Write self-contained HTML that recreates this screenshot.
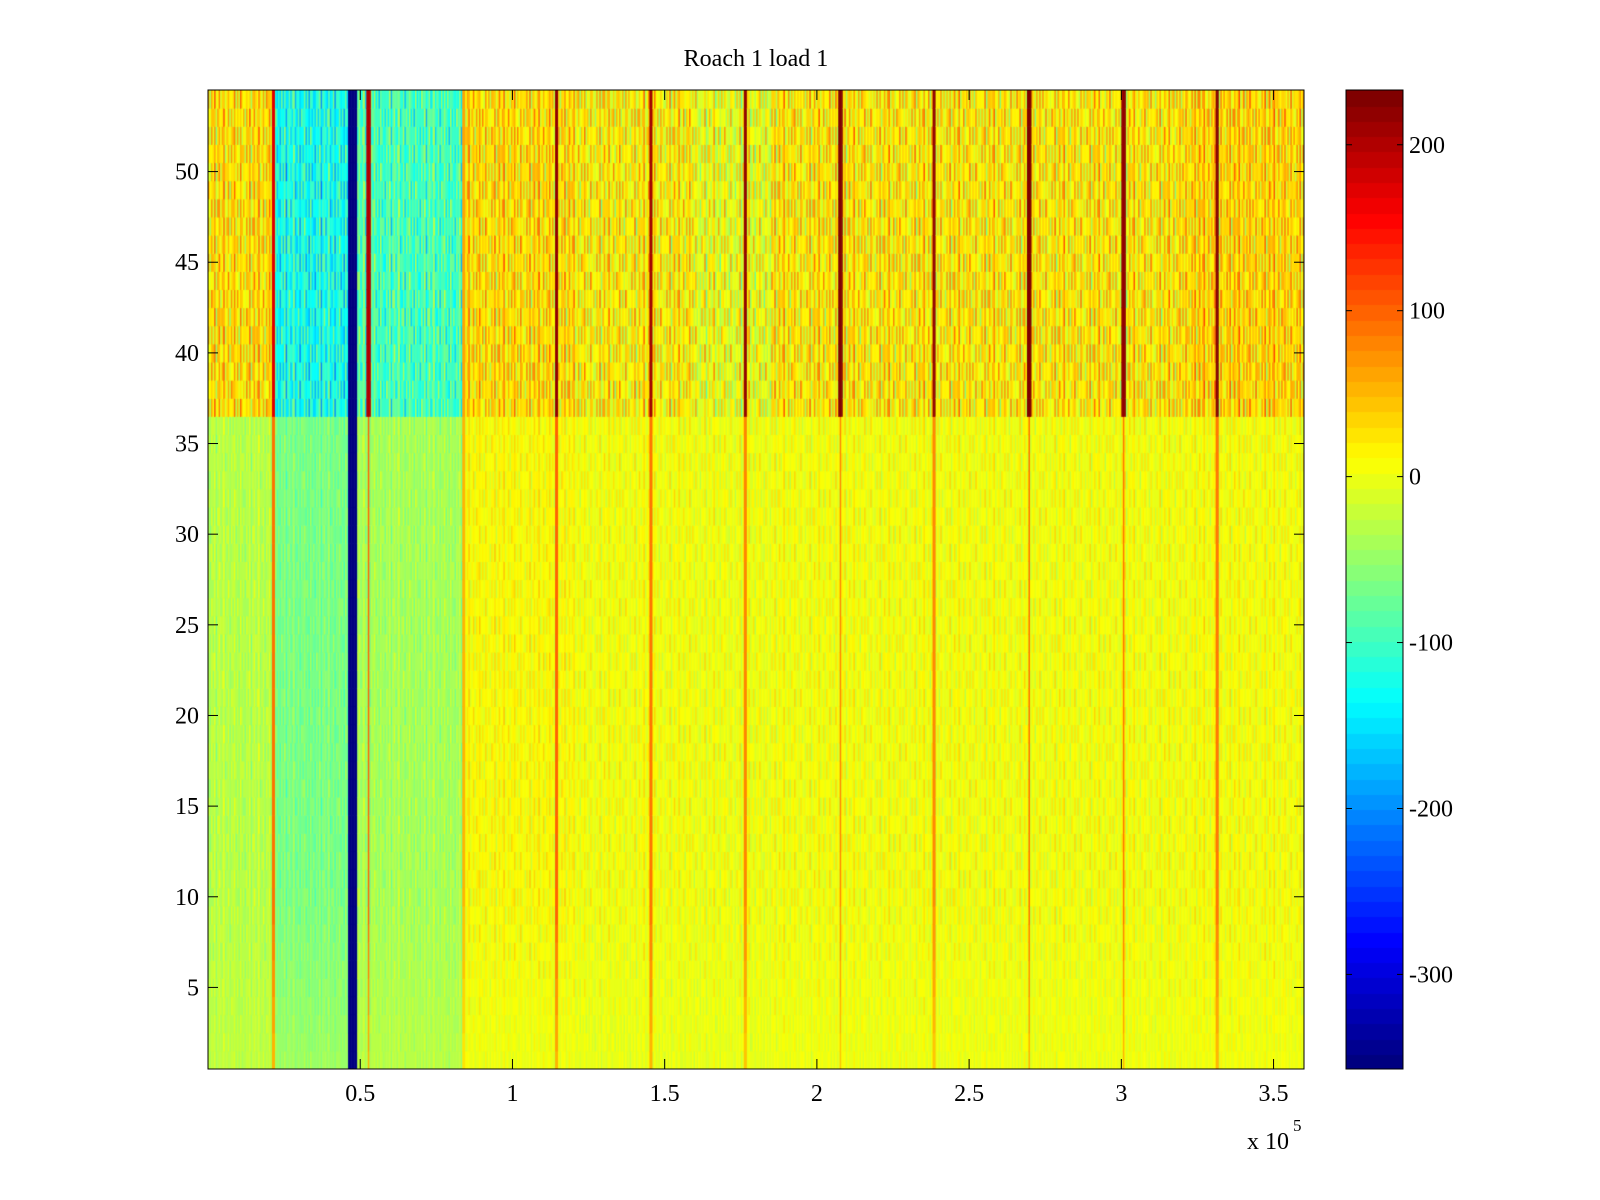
<!DOCTYPE html>
<html><head><meta charset="utf-8"><style>
body{margin:0;background:#fff;width:1600px;height:1200px;overflow:hidden;position:relative;font-family:"Liberation Serif",serif;}
.t{position:absolute;font-size:24px;color:#000;white-space:nowrap}
</style></head><body>
<div class="t" style="left:0;width:1512px;text-align:center;top:46px">Roach 1 load 1</div>
<canvas id="hm" width="1096" height="979" style="position:absolute;left:208px;top:90px"></canvas>
<canvas id="cb" width="57" height="979" style="position:absolute;left:1346px;top:90px"></canvas>
<svg id="ax" width="1600" height="1200" style="position:absolute;left:0;top:0"></svg>
<script>
// ---- data (x in units of 1e5, colour values) ----
const segStarts   = [0.00, 0.22, 0.46, 0.49, 0.84, 1.20, 1.60, 1.85, 3.20];
const segEnds     = [0.22, 0.46, 0.49, 0.84, 1.20, 1.60, 1.85, 3.20, 3.61];
const upperValues = [28, -125, -350, -95, 30, 18, 0, 22, 35];
const lowerValues = [-30, -65, -350, -40, 10, 4, 2, 4, 6];
const bottomValues= [-25, -45, -350, -30, 0, -3, -3, 0, 2];
const stripeX     = [0.215,0.527,0.839,1.144,1.456,1.765,2.077,2.386,2.698,3.007,3.315];
const stripeUpper = [170,200,60,220,210,220,225,215,225,220,225];
const stripeLower = [90,100,50,100,90,80,80,80,90,90,90];
const texture     = [0,-40,25,-15,50,-60,10,35,-25,5,60,-35,-10,30,-50,20,-5,45,-30,15,-45,40,-20];
const rowTexture  = [0,20,-15,30,-25,10,-35,25,-5,15,-20,35,-10,5,-30,40,-40];
const colorMin = -357, colorMax = 233;
const xMin = 0, xMax = 3.6, yMin = 0.5, yMax = 54.5;
const xTicks = [0.5,1,1.5,2,2.5,3,3.5];
const xTickLabels = ["0.5","1","1.5","2","2.5","3","3.5"];
const yTicks = [5,10,15,20,25,30,35,40,45,50];
const cTicks = [200,100,0,-100,-200,-300];

const L=208,T=90,W=1096,H=979,CL=1346,CW=57;
const xs = v => (v-xMin)/(xMax-xMin)*W;
const ys = v => (yMax-v)/(yMax-yMin)*H;
function jet(v){
  let t=(v-colorMin)/(colorMax-colorMin); t=Math.max(0,Math.min(1,t));
  t=Math.min(63,Math.floor(t*64))/63;
  const c=x=>Math.round(255*Math.max(0,Math.min(1,1.5-Math.abs(x))));
  return `rgb(${c(4*t-3)},${c(4*t-2)},${c(4*t-1)})`;
}
const ctx=document.getElementById('hm').getContext('2d');
const dx=0.005, nCols=Math.round(3.6/dx);
for(let c=0;c<nCols;c++){
  const x=c*dx+dx/2;
  let s=segStarts.findIndex((a,i)=>x>=a&&x<segEnds[i]); if(s<0)s=segEnds.length-1;
  for(let r=1;r<=54;r++){
    let v;
    const upper=r>=37;
    if(upper) v=upperValues[s];
    else if(r<=10) v=bottomValues[s]+(lowerValues[s]-bottomValues[s])*(r-1)/10;
    else v=lowerValues[s];
    if(upperValues[s]>-300){
      const amp = upper?0.85:(r<=10?0.15+0.02*r:0.35);
      v += amp*(texture[c%texture.length]+rowTexture[(r+c*3)%rowTexture.length]);
    }
    for(let k=0;k<stripeX.length;k++){
      if(Math.abs(x-stripeX[k])<(upper?0.006:0.004)){
        v = upper?stripeUpper[k]:stripeLower[k]*(r<=10?0.5+0.05*r:1);
      }
    }
    ctx.fillStyle=jet(v);
    ctx.fillRect(xs(x-dx/2),ys(r+0.5),xs(dx)+0.6,ys(r-0.5)-ys(r+0.5)+0.6);
  }
}
const cb=document.getElementById('cb').getContext('2d');
for(let i=0;i<64;i++){
  const v0=colorMin+(colorMax-colorMin)*i/64, v1=colorMin+(colorMax-colorMin)*(i+1)/64;
  cb.fillStyle=jet((v0+v1)/2);
  const y1=H-(i+1)*H/64;
  cb.fillRect(0,Math.floor(y1),CW,Math.ceil(H/64)+1);
}
const svg=document.getElementById('ax'),NS='http://www.w3.org/2000/svg';
function el(tag,attrs,txt){const e=document.createElementNS(NS,tag);for(const k in attrs)e.setAttribute(k,attrs[k]);if(txt!==undefined)e.textContent=txt;svg.appendChild(e);return e;}
let e;
e=el('rect',{x:L,y:T,width:W,height:H,fill:'none',stroke:'#000','stroke-width':1});


e=el('rect',{x:CL,y:T,width:CW,height:H,fill:'none',stroke:'#000','stroke-width':1});


const tf='font-family:"Liberation Serif",serif;font-size:24px';
xTicks.forEach((t,i)=>{const X=L+xs(t);
  el('line',{x1:X,y1:T,x2:X,y2:T+10,stroke:'#000'});el('line',{x1:X,y1:T+H,x2:X,y2:T+H-10,stroke:'#000'});
  e=el('text',{x:X,y:1101,'text-anchor':'middle',style:tf},xTickLabels[i]);
  
  
});
yTicks.forEach(t=>{const Y=T+ys(t);
  el('line',{x1:L,y1:Y,x2:L+10,y2:Y,stroke:'#000'});el('line',{x1:L+W,y1:Y,x2:L+W-10,y2:Y,stroke:'#000'});
  e=el('text',{x:199,y:Y+8,'text-anchor':'end',style:tf},String(t));
  
  
});
cTicks.forEach(t=>{const Y=T+(colorMax-t)/(colorMax-colorMin)*H;
  el('line',{x1:CL,y1:Y,x2:CL+6,y2:Y,stroke:'#000'});el('line',{x1:CL+CW,y1:Y,x2:CL+CW-6,y2:Y,stroke:'#000'});
  e=el('text',{x:1409,y:Y+8,style:tf},String(t));
  
  
});
e=el('text',{x:1247,y:1149,style:tf},'x 10');


e=el('text',{x:1293,y:1131,style:'font-family:"Liberation Serif",serif;font-size:17px'},'5');


</script>
</body></html>
